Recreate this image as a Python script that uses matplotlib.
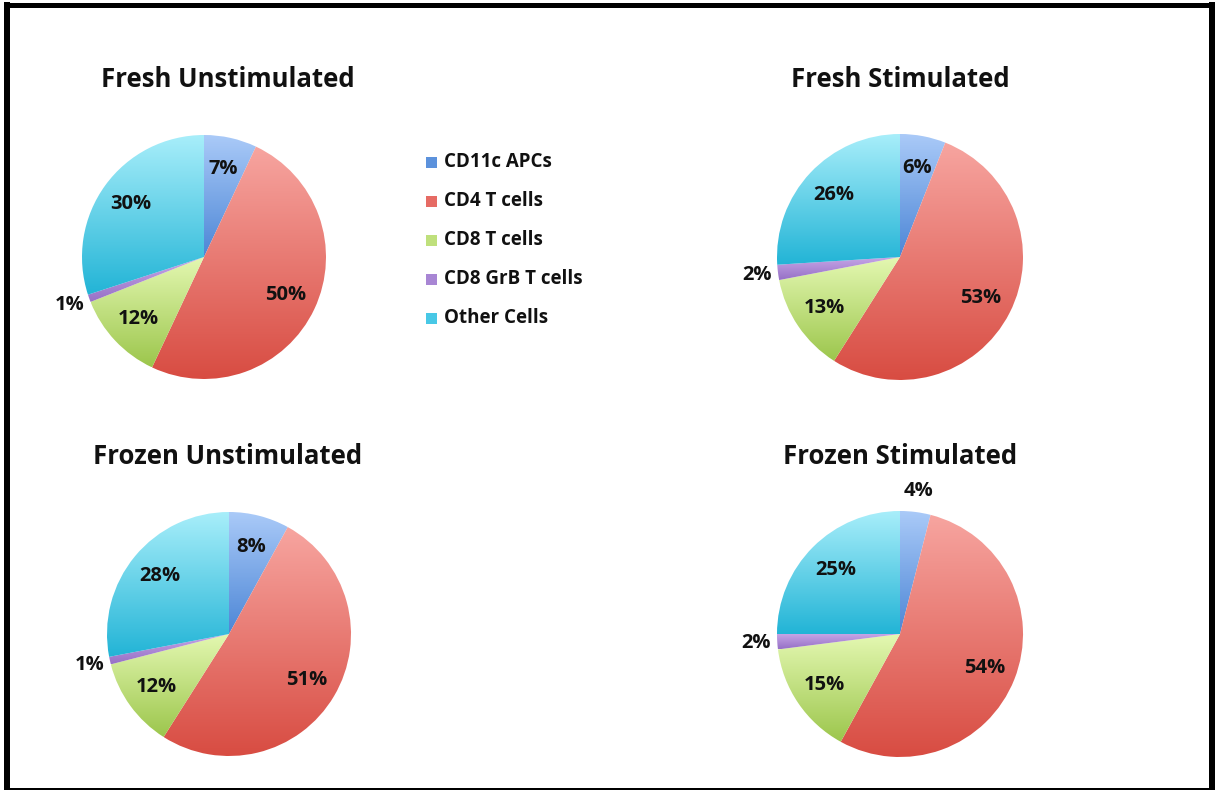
import numpy as np
import matplotlib
matplotlib.use("Agg")
import matplotlib.pyplot as plt
from matplotlib.colors import to_rgb
from matplotlib.patches import Rectangle

# ---------------------------------------------------------------- data
cell_types = ["CD11c APCs", "CD4 T cells", "CD8 T cells", "CD8 GrB T cells", "Other Cells"]
fresh_unstim = [7, 50, 12, 1, 30]
fresh_stim = [6, 53, 13, 2, 26]
frozen_unstim = [8, 51, 12, 1, 28]
frozen_stim = [4, 54, 15, 2, 25]
titles = ["Fresh Unstimulated", "Fresh Stimulated", "Frozen Unstimulated", "Frozen Stimulated"]

# ---------------------------------------------------------------- styles
grad_top = ["#aacaf8", "#f7a5a0", "#e4f8b2", "#c8a8e8", "#a8eefa"]
grad_bot = ["#4c86d6", "#d84c42", "#9cc64c", "#9670c6", "#22b4d6"]
legend_cols = ["#5c92dc", "#e66b64", "#bfe07c", "#a886d4", "#48c8e6"]
FONT = "Open Sans"

W, H = 1215, 791
# (values, centre x, centre y from top, radius, title baseline y, title x)
panels = [
    (fresh_unstim, 204, 257, 122, 87, 228),
    (fresh_stim, 900, 257, 123, 87, 900),
    (frozen_unstim, 229, 634, 122, 464, 228),
    (frozen_stim, 900, 634, 123, 464, 900),
]


def gradient(top, bot, n=256):
    t = np.linspace(0, 1, n)[:, None]
    a, b = np.array(to_rgb(top)), np.array(to_rgb(bot))
    return (a * (1 - t) + b * t)[:, None, :]


fig = plt.figure(figsize=(W / 100, H / 100), dpi=100)
ax = fig.add_axes([0, 0, 1, 1])

for (vals, cx, cy, r, ty, tx), title in zip(panels, titles):
    cy_up = H - cy
    wedges, _ = ax.pie(vals, center=(cx, cy_up), radius=r, startangle=90,
                       counterclock=False, frame=True,
                       wedgeprops=dict(facecolor="none", edgecolor="none"))
    for i, w in enumerate(wedges):
        # vertical light-to-dark fill per slice
        x0, y0, x1, y1 = w.get_path().get_extents().extents
        im = ax.imshow(gradient(grad_top[i], grad_bot[i]), extent=(x0, x1, y0, y1),
                       origin="upper", aspect="auto", interpolation="bilinear", zorder=1)
        im.set_clip_path(w)
        mid = np.deg2rad((w.theta1 + w.theta2) / 2)
        dist = 0.74 if vals[i] >= 5 else 1.17
        ax.text(cx + dist * r * np.cos(mid), cy_up + dist * r * np.sin(mid),
                "%d%%" % vals[i], ha="center", va="center", fontsize=14.5,
                fontweight="bold", family=FONT, color="#111111", zorder=3)
    ax.text(tx, H - ty, title, ha="center", va="baseline", fontsize=18.5,
            fontweight="bold", family=FONT, color="#111111")

# legend
for i, (name, col) in enumerate(zip(cell_types, legend_cols)):
    yc = H - (162 + 39 * i)
    ax.add_patch(Rectangle((426, yc - 5.5), 11, 11, facecolor=col, edgecolor="none"))
    ax.text(444, yc, name, ha="left", va="center", fontsize=13.5,
            fontweight="bold", family=FONT, color="#111111")

# black frame
for x, y, w, h in [(4, 2, 6, 787), (4, 783, 1211, 5), (1209, 2, 6, 787), (4, 1, 1211, 2)]:
    ax.add_patch(Rectangle((x, y), w, h, facecolor="black", edgecolor="none", zorder=5))

ax.set_xlim(0, W)
ax.set_ylim(0, H)
ax.set_axis_off()

fig.savefig("out.png", dpi=100, facecolor="white")
